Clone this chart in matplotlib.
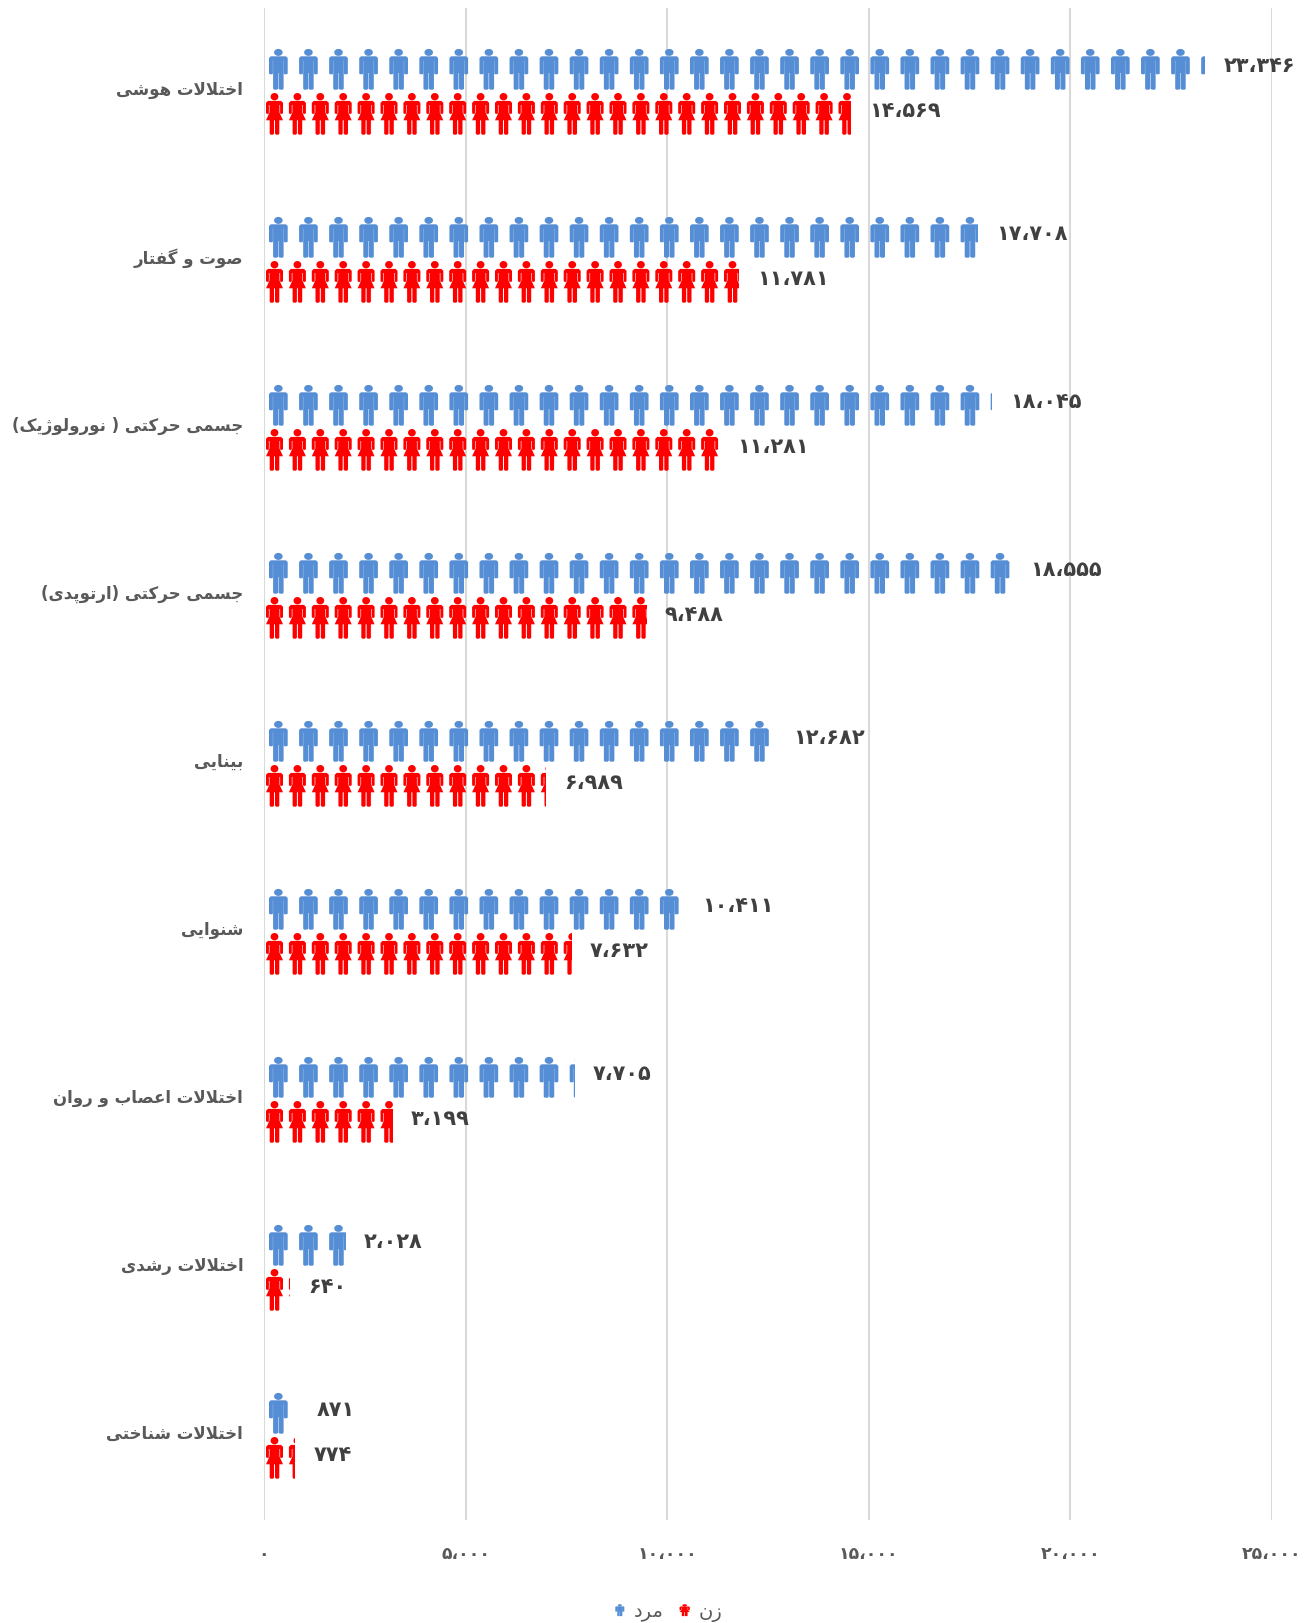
import math
import matplotlib
matplotlib.use("Agg")
import matplotlib.pyplot as plt
import numpy as np
from matplotlib.path import Path
from matplotlib.patches import PathPatch
from matplotlib.legend_handler import HandlerBase
from matplotlib.transforms import Affine2D
from matplotlib.ticker import FuncFormatter

# ------- data -------
categories = ["اختلالات هوشی", "صوت و گفتار", "جسمی حرکتی ( نورولوژیک)",
              "جسمی حرکتی (ارتوپدی)", "بینایی", "شنوایی",
              "اختلالات اعصاب و روان", "اختلالات رشدی", "اختلالات شناختی"]
men = [23346, 17708, 18045, 18555, 12682, 10411, 7705, 2028, 871]
women = [14569, 11781, 11281, 9488, 6989, 7632, 3199, 640, 774]
series_names = ["مرد", "زن"]
x_ticks = [0, 5000, 10000, 15000, 20000, 25000]

# ------- Persian shaping (matplotlib does no shaping or bidi itself) -------
FORMS = {
    "ا": (0xFE8D, 0xFE8E), "د": (0xFEA9, 0xFEAA), "ر": (0xFEAD, 0xFEAE),
    "ز": (0xFEAF, 0xFEB0), "و": (0xFEED, 0xFEEE), "ژ": (0xFB8A, 0xFB8B),
    "ب": (0xFE8F, 0xFE90, 0xFE91, 0xFE92), "ت": (0xFE95, 0xFE96, 0xFE97, 0xFE98),
    "ج": (0xFE9D, 0xFE9E, 0xFE9F, 0xFEA0), "ح": (0xFEA1, 0xFEA2, 0xFEA3, 0xFEA4),
    "خ": (0xFEA5, 0xFEA6, 0xFEA7, 0xFEA8), "س": (0xFEB1, 0xFEB2, 0xFEB3, 0xFEB4),
    "ش": (0xFEB5, 0xFEB6, 0xFEB7, 0xFEB8), "ص": (0xFEB9, 0xFEBA, 0xFEBB, 0xFEBC),
    "ع": (0xFEC9, 0xFECA, 0xFECB, 0xFECC), "ف": (0xFED1, 0xFED2, 0xFED3, 0xFED4),
    "ل": (0xFEDD, 0xFEDE, 0xFEDF, 0xFEE0), "م": (0xFEE1, 0xFEE2, 0xFEE3, 0xFEE4),
    "ن": (0xFEE5, 0xFEE6, 0xFEE7, 0xFEE8), "ه": (0xFEE9, 0xFEEA, 0xFEEB, 0xFEEC),
    "پ": (0xFB56, 0xFB57, 0xFB58, 0xFB59), "ک": (0xFB8E, 0xFB8F, 0xFB90, 0xFB91),
    "گ": (0xFB92, 0xFB93, 0xFB94, 0xFB95), "ی": (0xFBFC, 0xFBFD, 0xFBFE, 0xFBFF),
}
MIRROR = {"(": ")", ")": "("}


def shape(text):
    out = []
    i = 0
    n = len(text)
    prev_joins = False
    while i < n:
        c = text[i]
        if c not in FORMS:
            out.append(MIRROR.get(c, c))
            prev_joins = False
            i += 1
            continue
        if c == "ل" and i + 1 < n and text[i + 1] == "ا":
            out.append(chr(0xFEFC if prev_joins else 0xFEFB))
            prev_joins = False
            i += 2
            continue
        f = FORMS[c]
        next_ok = i + 1 < n and text[i + 1] in FORMS
        if len(f) == 4:
            if prev_joins and next_ok:
                g = f[3]
            elif prev_joins:
                g = f[1]
            elif next_ok:
                g = f[2]
            else:
                g = f[0]
            out.append(chr(g))
            prev_joins = next_ok
        else:
            out.append(chr(f[1] if prev_joins else f[0]))
            prev_joins = False
        i += 1
    return "".join(reversed(out))


def fa_num(v):
    return f"{int(v):,}".translate(str.maketrans("0123456789,", "۰۱۲۳۴۵۶۷۸۹،"))


# ------- pictogram shapes, in reference pixels (y down) -------
def poly(pts):
    pts = list(pts)
    return Path(pts + [pts[0]], [Path.MOVETO] + [Path.LINETO] * (len(pts) - 1) + [Path.CLOSEPOLY])


def head(cx, cy, rx, ry):
    t = np.linspace(0, 2 * np.pi, 25)[:-1]
    return poly(zip(cx + rx * np.cos(t), cy + ry * np.sin(t)))


MAN_W, MAN_H = 18.7, 40.7
MAN = Path.make_compound_path(
    head(9.35, 3.4, 4.3, 3.5),
    poly([(1.8, 7.3), (16.9, 7.3), (18.7, 9.0), (18.7, 24.6), (17.6, 25.3), (15.6, 25.3), (14.8, 24.6),
          (14.8, 11.5), (14.6, 11.5), (14.6, 39.7), (13.6, 40.7), (10.7, 40.7), (9.6, 39.7), (9.6, 24),
          (9.1, 24), (9.1, 39.7), (8.0, 40.7), (5.1, 40.7), (4.1, 39.7), (4.1, 11.5), (3.9, 11.5),
          (3.9, 24.6), (3.1, 25.3), (1.1, 25.3), (0, 24.6), (0, 9.0)]),
)
WOMAN_W, WOMAN_H = 17.0, 41.7
WOMAN = Path.make_compound_path(
    head(8.5, 3.7, 3.9, 3.7),
    poly([(2.0, 7.9), (15.0, 7.9), (17.0, 9.8), (17.0, 20.2), (16.0, 20.9), (14.9, 20.9), (14.1, 20.2),
          (14.1, 12), (13.5, 12), (13.5, 19.5), (17.0, 27.3), (13.3, 27.3), (13.3, 40.6), (12.4, 41.7),
          (10.0, 41.7), (9.0, 40.6), (9.0, 27.3), (8.0, 27.3), (8.0, 40.6), (7.0, 41.7), (4.6, 41.7),
          (3.7, 40.6), (3.7, 27.3), (0, 27.3), (3.5, 19.5), (3.5, 12), (2.9, 12), (2.9, 20.2), (2.1, 20.9),
          (1.0, 20.9), (0, 20.2), (0, 9.8)]),
)

# ------- figure -------
FIG_W, FIG_H = 1312, 1623
fig = plt.figure(figsize=(FIG_W / 100, FIG_H / 100), dpi=100, facecolor="white")
L, R, T, B = 264, 1272, 8, 1520
ax = fig.add_axes([L / FIG_W, 1 - B / FIG_H, (R - L) / FIG_W, (B - T) / FIG_H])
FONT = "DejaVu Sans"
ax.set_xlim(0, 25000)
ax.set_ylim(len(categories) - 0.5, -0.5)
PX_X = 25000 / (R - L)
PX_Y = len(categories) / (B - T)

ax.set_axisbelow(True)
ax.grid(axis="x", color="#D9D9D9", lw=1.5)
ax.grid(axis="y", visible=False)
for s in ax.spines.values():
    s.set_visible(False)
ax.set_xticks(x_ticks)
ax.xaxis.set_major_formatter(FuncFormatter(lambda v, p: fa_num(v)))
ax.tick_params(axis="x", length=0, pad=18, labelsize=12.5, labelcolor="#595959")
ax.set_yticks(range(len(categories)))
ax.set_yticklabels([shape(c) for c in categories])
ax.tick_params(axis="y", length=0, pad=15, labelsize=12, labelcolor="#595959")
for t in ax.get_xticklabels() + ax.get_yticklabels():
    t.set_fontfamily(FONT)
    t.set_fontweight("bold")
for t in ax.get_yticklabels():
    t.set_transform(t.get_transform() + Affine2D().translate(0, 4))


def draw_series(values, icon, period_px, first_px, top_px, h_px, color):
    period = period_px * PX_X
    for i, v in enumerate(values):
        center = i + (top_px + h_px / 2) * PX_Y
        bar = ax.barh(center, v, height=h_px * PX_Y, facecolor="none", linewidth=0)[0]
        n = math.ceil(v / period)
        tr = [
            Affine2D().scale(PX_X, PX_Y).translate(k * period + first_px * PX_X, i + top_px * PX_Y)
            for k in range(n)
        ]
        path = Path.make_compound_path(*[icon.transformed(t) for t in tr])
        patch = PathPatch(path, facecolor=color, edgecolor="none", linewidth=0)
        ax.add_patch(patch)
        patch.set_clip_path(bar)
        ax.annotate(fa_num(v), (v, center), xytext=(13, 2.2), textcoords="offset points",
                    ha="left", va="center", fontsize=15, fontweight="bold",
                    color="#404040", family=FONT)


draw_series(men, MAN, 30.07, 5.0, -43.0, MAN_H, "#558ED5")
draw_series(women, WOMAN, 22.9, 2.0, 1.0, WOMAN_H, "#FF0000")


# ------- legend -------
class IconHandler(HandlerBase):
    def __init__(self, icon, w, h, color, w_pt):
        super().__init__()
        self.icon, self.w, self.h, self.color, self.w_pt = icon, w, h, color, w_pt

    def create_artists(self, legend, orig, xd, yd, width, height, fontsize, trans):
        t = (Affine2D().translate(-self.w / 2, -self.h / 2)
             .scale(self.w_pt / self.w, -8.6 / self.h)
             .translate(width / 2 - xd, height / 2 - yd))
        p = PathPatch(self.icon, facecolor=self.color, edgecolor="none", transform=t + trans)
        return [p]


h_m = PathPatch(MAN, label=shape(series_names[0]))
h_w = PathPatch(WOMAN, label=shape(series_names[1]))
leg = ax.legend(
    [h_m, h_w], [shape(n) for n in series_names],
    handler_map={h_m: IconHandler(MAN, MAN_W, MAN_H, "#558ED5", 6.5),
                 h_w: IconHandler(WOMAN, WOMAN_W, WOMAN_H, "#FF0000", 7.4)},
    loc="center", bbox_to_anchor=(668.5 / FIG_W, 1 - 1612 / FIG_H), bbox_transform=fig.transFigure,
    ncols=2, frameon=False, labelcolor="#595959",
    handlelength=0.55, handletextpad=0.45, columnspacing=0.8,
    prop={"family": FONT, "size": 14},
)

fig.savefig("out.png", dpi=100)
